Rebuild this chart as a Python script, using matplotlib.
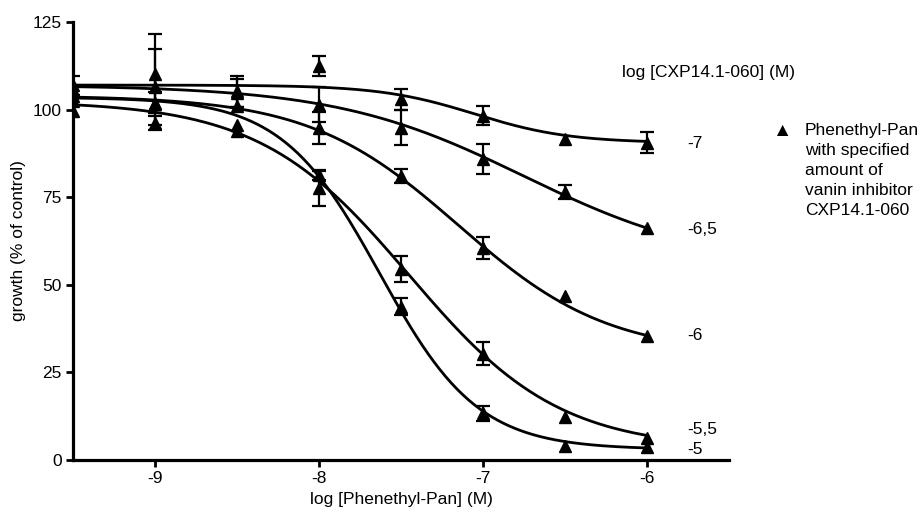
import numpy as np
import matplotlib
matplotlib.use("Agg")
import matplotlib.pyplot as plt

plt.rcParams['font.family'] = ['Liberation Sans', 'DejaVu Sans']

# ---- data ----
log_pan = [-9.5, -9.0, -8.5, -8.0, -7.5, -7.0, -6.5, -6.0]
inhibitor_labels = ['-7', '-6,5', '-6', '-5,5', '-5']

growth_m7 = [106.9, 110.3, 105.2, 112.4, 102.9, 98.3, 91.6, 90.5]
sem_m7 = [2.6, 11.4, 4.5, 2.8, 3.0, 2.6, 0.0, 3.0]
growth_m65 = [105.7, 106.5, 104.7, 101.4, 94.8, 85.9, 76.4, 66.1]
sem_m65 = [0.0, 10.8, 4.0, 5.0, 5.0, 4.2, 2.0, 0.0]
growth_m6 = [103.8, 101.9, 101.0, 94.8, 81.0, 60.5, 46.7, 35.4]
sem_m6 = [0.0, 3.0, 0.0, 4.6, 2.0, 3.2, 0.0, 0.0]
growth_m55 = [99.5, 96.2, 93.8, 81.4, 54.5, 30.3, 12.4, 6.2]
sem_m55 = [0.0, 2.0, 0.0, 1.5, 3.8, 3.3, 0.0, 0.0]
growth_m5 = [102.4, 101.5, 95.7, 77.6, 43.8, 13.3, 4.0, 3.8]
sem_m5 = [0.0, 0.0, 0.0, 5.0, 2.3, 2.2, 0.0, 0.0]

# fitted four-parameter logistic curves (top, bottom, logIC50, hill)
fit_top = [107.0, 107.0, 104.0, 102.5, 103.5]
fit_bottom = [90.5, 55.0, 30.0, 3.0, 3.0]
fit_logic50 = [-7.05, -6.75, -7.15, -7.45, -7.63]
fit_hill = [1.5, 0.75, 0.95, 0.95, 1.45]

series_y = [growth_m7, growth_m65, growth_m6, growth_m55, growth_m5]
series_err = [sem_m7, sem_m65, sem_m6, sem_m55, sem_m5]

FS = 12.5
W, H = 921, 514
fig = plt.figure(figsize=(W / 100, H / 100), dpi=100)
ax = fig.add_axes([73 / W, (514 - 460) / H, 656 / W, (460 - 22) / H])

xs = np.linspace(-9.5, -6.0, 300)
for top, bot, ic, h in zip(fit_top, fit_bottom, fit_logic50, fit_hill):
    ys = bot + (top - bot) / (1 + 10 ** ((xs - ic) * h))
    ax.plot(xs, ys, color='black', lw=2.0, solid_capstyle='butt')

for y, e in zip(series_y, series_err):
    xe = [x for x, ee in zip(log_pan, e) if ee > 0]
    ye = [v for v, ee in zip(y, e) if ee > 0]
    ee_ = [ee for ee in e if ee > 0]
    ax.errorbar(xe, ye, yerr=ee_, fmt='none', ecolor='black',
                elinewidth=1.6, capsize=5, capthick=1.6)
    ax.plot(log_pan, y, '^', color='black', ms=8)

ax.set_xlim(-9.5, -5.5)
ax.set_ylim(0, 125)
ax.set_xticks([-9, -8, -7, -6])
ax.set_xticklabels(['-9', '-8', '-7', '-6'])
ax.set_yticks([0, 25, 50, 75, 100, 125])
for s in ['top', 'right']:
    ax.spines[s].set_visible(False)
for s in ['left', 'bottom']:
    ax.spines[s].set_linewidth(2.3)
ax.tick_params(axis='both', direction='out', length=5, width=2.0,
               labelsize=FS, pad=3)
ax.set_xlabel('log [Phenethyl-Pan] (M)', fontsize=FS, labelpad=4)
ax.set_ylabel('growth (% of control)', fontsize=FS, labelpad=5)

# series labels on right
label_y_px = [143, 229, 335, 430, 449]
for lab, yp in zip(inhibitor_labels, label_y_px):
    fig.text(687 / W, 1 - yp / H, lab, fontsize=FS, va='center', ha='left')

fig.text(622 / W, 1 - 73 / H, 'log [CXP14.1-060] (M)', fontsize=FS,
         va='center', ha='left')

# legend
fig.text(782 / W, 1 - 131 / H, '\u25B2', fontsize=14, va='center', ha='center')
fig.text(805 / W, 1 - 123 / H,
         'Phenethyl-Pan\nwith specified\namount of\nvanin inhibitor\nCXP14.1-060',
         fontsize=FS, va='top', ha='left', linespacing=1.42)

fig.savefig('out.png', dpi=100)
